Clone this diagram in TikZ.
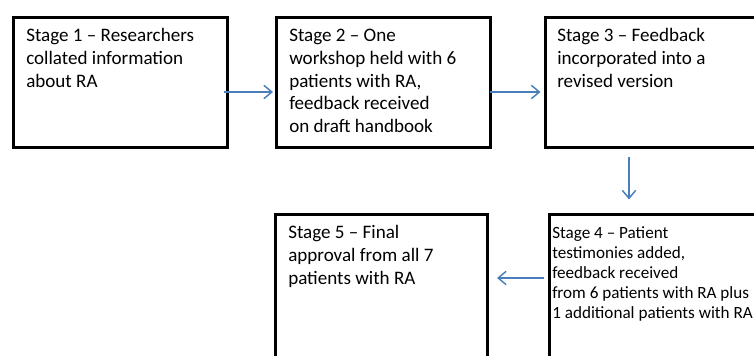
\documentclass[tikz,border=0pt]{standalone}
\usepackage{fontspec}
\setmainfont{Carlito}
\usetikzlibrary{arrows.meta,calc}
\definecolor{arrowblue}{HTML}{4A7EBB}
\tikzset{
  stagebox/.style={draw=black, line width=2.25pt, inner sep=0pt, fill=none},
  stagetext/.style={anchor=base west, inner sep=0pt, font=\fontsize{14.3pt}{16.9pt}\selectfont},
  smalltext/.style={anchor=base west, inner sep=0pt, font=\fontsize{12.85pt}{15pt}\selectfont},
  flowarrow/.style={draw=arrowblue, line width=1.1pt, -{Straight Barb[length=6pt,width=10pt,line width=1.1pt]}}
}
\begin{document}
\begin{tikzpicture}[x=0.75pt,y=-0.75pt]
\useasboundingbox (0,0) rectangle (754,356);
% boxes
\node[stagebox, minimum width=214*0.75pt, minimum height=130*0.75pt, anchor=north west] (b1) at (11.5,16.5) {};
\node[stagebox, minimum width=214*0.75pt, minimum height=130*0.75pt, anchor=north west] (b2) at (275,16.5) {};
\node[stagebox, minimum width=222*0.75pt, minimum height=130*0.75pt, anchor=north west] (b3) at (543.5,16.5) {};
\node[stagebox, minimum width=212*0.75pt, minimum height=160*0.75pt, anchor=north west] (b5) at (274,213.5) {};
\node[stagebox, minimum width=218*0.75pt, minimum height=160*0.75pt, anchor=north west] (b4) at (547.5,213.5) {};
% texts
\node[stagetext] (t1) at (26,42) {\vtop{\baselineskip=16.9pt\hbox{Stage 1 – Researchers}\hbox{collated information}\hbox{about RA}}};
\node[stagetext] (t2) at (289,42) {\vtop{\baselineskip=16.9pt\hbox{Stage 2 – One}\hbox{workshop held with 6}\hbox{patients with RA,}\hbox{feedback received}\hbox{on draft handbook}}};
\node[stagetext] (t3) at (557,42) {\vtop{\baselineskip=16.9pt\hbox{Stage 3 – Feedback}\hbox{incorporated into a}\hbox{revised version}}};
\node[stagetext] (t5) at (288,239) {\vtop{\baselineskip=16.9pt\hbox{Stage 5 – Final}\hbox{approval from all 7}\hbox{patients with RA}}};
\node[smalltext] (t4) at (552,239) {\vtop{\baselineskip=15pt\hbox{Stage 4 – Patient}\hbox{testimonies added,}\hbox{feedback received}\hbox{from 6 patients with RA plus}\hbox{1 additional patients with RA}}};
% arrows
\draw[flowarrow] ($(b1.east)+(-5,9)$) -- ($(b2.west)+(-2,9)$);
\draw[flowarrow] ($(b2.east)+(-2,9)$) -- ($(b3.west)+(-3,9)$);
\draw[flowarrow] ($(b3.south)+(-27,8)$) -- ($(b4.north)+(-29,-14)$);
\draw[flowarrow] ($(b4.west)+(-4,-17)$) -- ($(b5.east)+(8,-17)$);
\end{tikzpicture}
\end{document}
